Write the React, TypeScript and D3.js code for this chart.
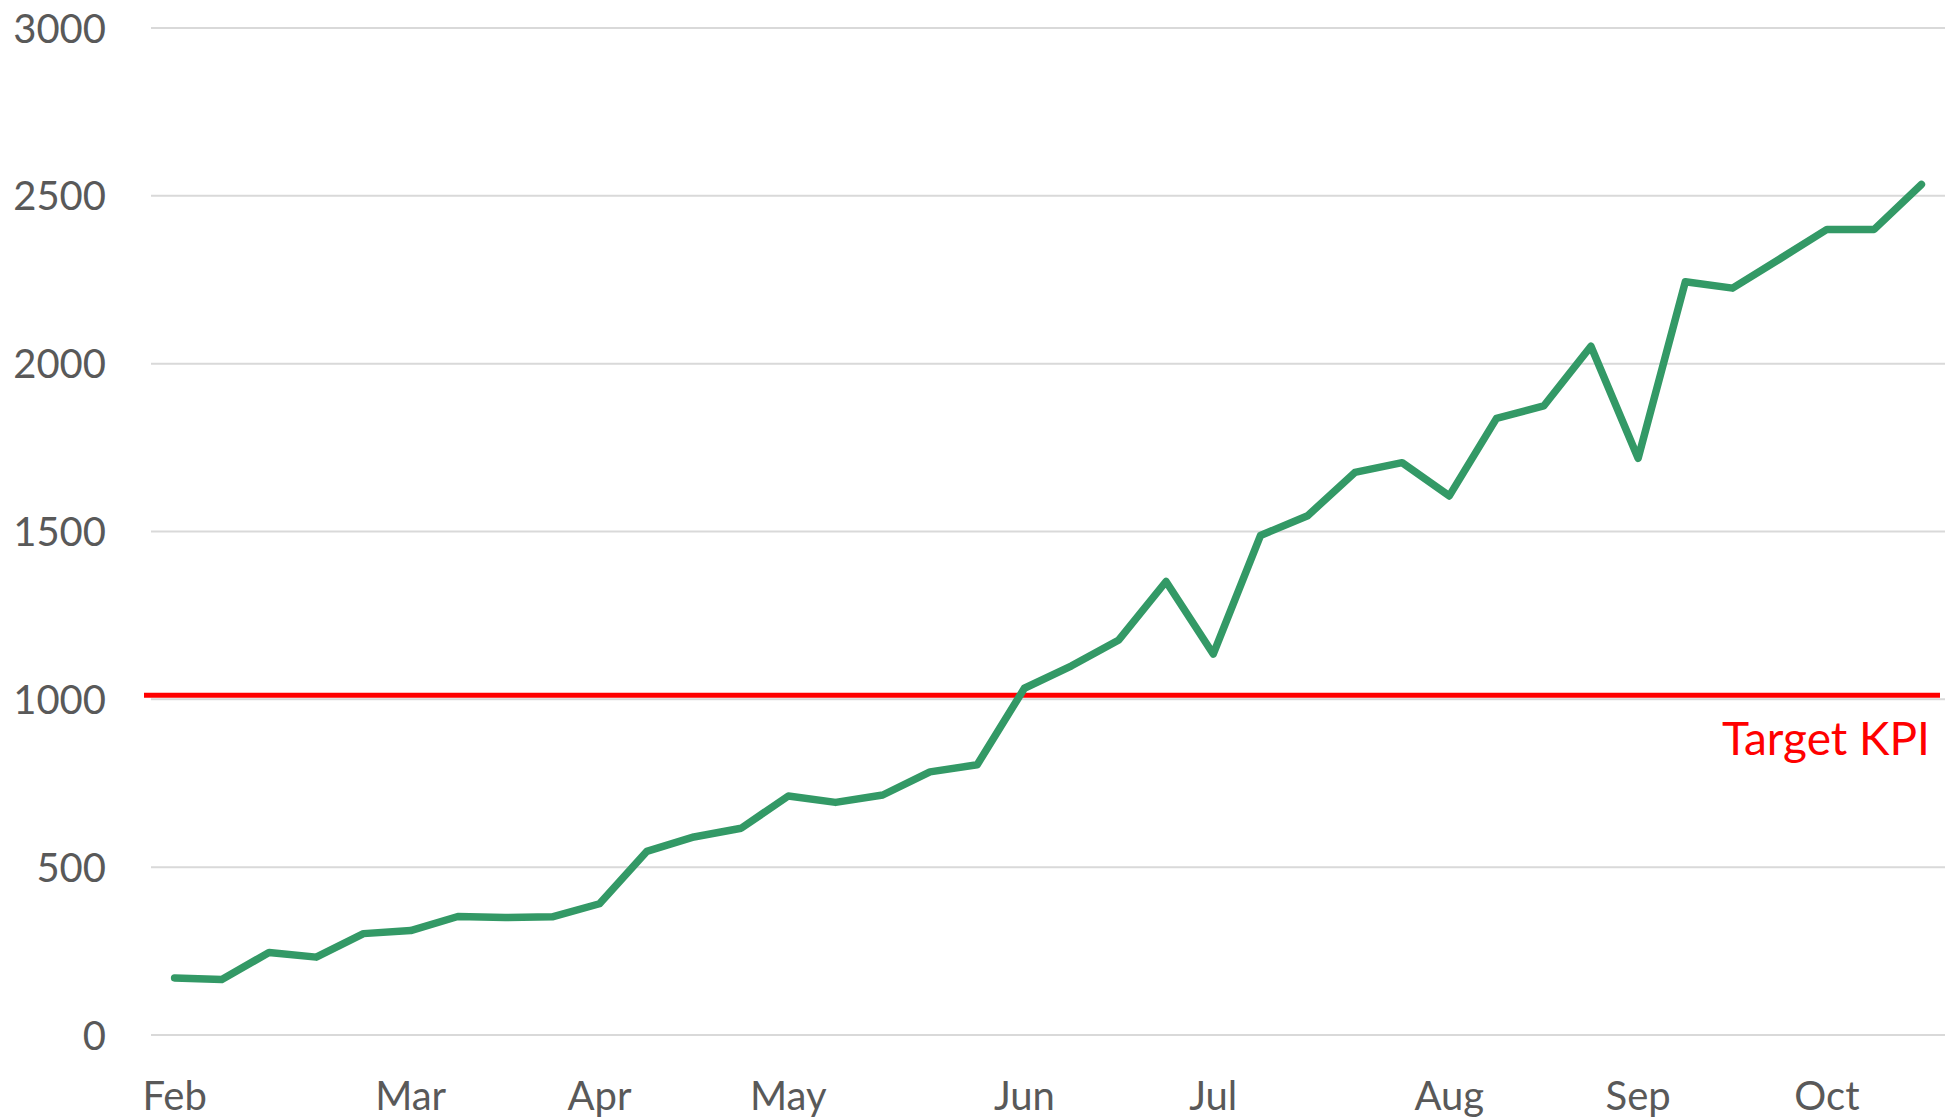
import { useEffect, useRef } from "react";
import * as d3 from "d3";

// weekly values
const values = [
  170, 165, 246, 232, 302, 311, 353, 350, 352, 391,
  547, 590, 616, 712, 693, 715, 784, 805, 1033, 1100,
  1177, 1351, 1135, 1488, 1547, 1676, 1705, 1606, 1837, 1874,
  2052, 1718, 2244, 2225, 2312, 2400, 2400, 2534,
];

// category labels: month name on the first week of each month
const weekLabels = [
  "Feb", "", "", "", "", "Mar", "", "", "", "Apr",
  "", "", "", "May", "", "", "", "", "Jun", "",
  "", "", "Jul", "", "", "", "", "Aug", "", "",
  "", "Sep", "", "", "", "Oct", "", "",
];

const yTicks = [0, 500, 1000, 1500, 2000, 2500, 3000];
const target = 1012;
const targetLabel = "Target KPI";

export default function App() {
  const ref = useRef<SVGSVGElement | null>(null);

  useEffect(() => {
    if (!ref.current) return;
    const svg = d3.select(ref.current);
    svg.selectAll("*").remove();

    const width = 1948, height = 1120;
    const left = 151, right = 1945, top = 28, bottom = 1035;
    const font = "Lato, 'Open Sans', sans-serif";

    const x = d3.scaleBand<number>()
      .domain(values.map((_, i) => i))
      .range([left, right]);
    const cx = (i: number) => (x(i) ?? 0) + x.bandwidth() / 2;

    const y = d3.scaleLinear().domain([0, 3000]).range([bottom, top]);

    svg.attr("width", width).attr("height", height);

    // gridlines
    svg.append("g")
      .selectAll("line")
      .data(yTicks)
      .join("line")
      .attr("x1", left)
      .attr("x2", right)
      .attr("y1", d => y(d))
      .attr("y2", d => y(d))
      .attr("stroke", "#d9d9d9")
      .attr("stroke-width", 2);

    // y labels
    svg.append("g")
      .selectAll("text")
      .data(yTicks)
      .join("text")
      .attr("x", 106)
      .attr("y", d => y(d) + 14.5)
      .attr("text-anchor", "end")
      .attr("font-family", font)
      .attr("font-size", 40)
      .attr("fill", "#595959")
      .text(d => String(d));

    // x labels
    svg.append("g")
      .selectAll("text")
      .data(weekLabels.map((l, i) => ({ l, i })).filter(d => d.l))
      .join("text")
      .attr("x", d => cx(d.i))
      .attr("y", 1110)
      .attr("text-anchor", "middle")
      .attr("font-family", font)
      .attr("font-size", 40)
      .attr("fill", "#595959")
      .text(d => d.l);

    // target line
    svg.append("line")
      .attr("x1", left - 7)
      .attr("x2", right - 5)
      .attr("y1", y(target))
      .attr("y2", y(target))
      .attr("stroke", "#ff0000")
      .attr("stroke-width", 5);

    svg.append("text")
      .attr("x", 1930)
      .attr("y", y(target) + 60)
      .attr("text-anchor", "end")
      .attr("font-family", font)
      .attr("font-size", 46)
      .attr("fill", "#ff0000")
      .text(targetLabel);

    // series
    const line = d3.line<number>()
      .x((_, i) => cx(i))
      .y(d => y(d));

    svg.append("path")
      .datum(values)
      .attr("d", line)
      .attr("fill", "none")
      .attr("stroke", "#339966")
      .attr("stroke-width", 7.5)
      .attr("stroke-linejoin", "round")
      .attr("stroke-linecap", "round");
  }, []);

  return (
    <svg
      ref={ref}
      style={{ position: "absolute", left: 0, top: 0, background: "#fff" }}
    />
  );
}
